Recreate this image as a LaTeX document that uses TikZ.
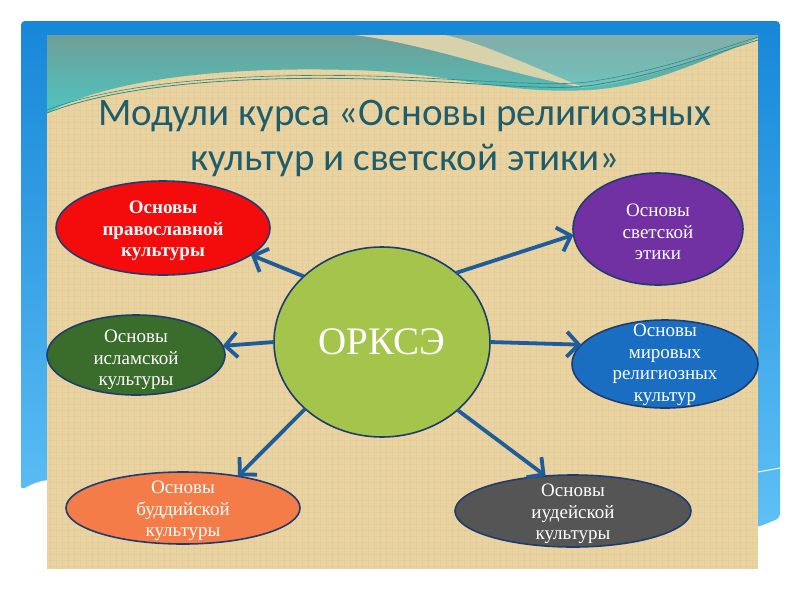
\documentclass[tikz,border=0pt]{standalone}
\usepackage{fontspec}
\setmainfont{Liberation Serif}
\newfontfamily\titlefont{Carlito}
\usetikzlibrary{arrows.meta,shapes.geometric}
\definecolor{papyrus}{HTML}{E9D3A0}
\definecolor{papyrusdark}{HTML}{B89A5A}
\definecolor{frametop}{HTML}{1787D8}
\definecolor{framebot}{HTML}{5EC0F6}
\definecolor{tealtop}{HTML}{6E9E98}
\definecolor{tealbot}{HTML}{4EC6BE}
\definecolor{tealline}{HTML}{2E8C8A}
\definecolor{titlecol}{HTML}{1F5C6C}
\definecolor{navy}{HTML}{1F3C70}
\definecolor{arrowblue}{HTML}{1E5C9C}
\definecolor{cgreen}{HTML}{A5C44B}
\definecolor{bred}{HTML}{F40C0C}
\definecolor{bgreen}{HTML}{3A6C2C}
\definecolor{bpurple}{HTML}{7231A2}
\definecolor{bblue}{HTML}{1A6EC2}
\definecolor{borange}{HTML}{F47C48}
\definecolor{bgray}{HTML}{555555}
\tikzset{
  bub/.style={ellipse, draw=navy, line width=1.6pt, inner sep=0pt, outer sep=0pt},
  lbl/.style={text=white, align=center, inner sep=0pt, yshift=-3pt, font=\fontsize{19}{21.5}\selectfont},
  arr/.style={draw=arrowblue, line width=3.8pt, -{Straight Barb[length=12pt,width=25pt]}},
  texv/.style={draw=papyrusdark, line width=0.8pt, opacity=0.07},
}
\begin{document}
\begin{tikzpicture}[x=1pt,y=-1pt]
\useasboundingbox (0,0) rectangle (800,600);
\fill[white] (0,0) rectangle (800,600);
% blue frame
\shade[top color=frametop, bottom color=framebot, rounded corners=4pt]
  (21,490) -- (21,21) -- (780,21) -- (780,518) -- (758,527) -- (47,480)
  .. controls (36,482) and (28,486) .. (21,490) -- cycle;
\draw[white, line width=1pt] (758,472) -- (780,468);
% papyrus
\fill[papyrus] (47,35) rectangle (758,569);
\foreach \i in {0,...,117} {\draw[texv] (50+\i*6,35) -- (50+\i*6,569);}
\foreach \j in {0,...,88} {\draw[texv] (47,38+\j*6) -- (758,38+\j*6);}
% teal waves
\shade[top color=tealtop, bottom color=tealbot]
  (47,35) -- (758,35) -- (758,38)
  .. controls (700,62) and (650,86) .. (590,90)
  .. controls (500,95) and (450,72) .. (350,70)
  .. controls (200,66) and (100,84) .. (47,113) -- cycle;
\fill[papyrus!85!white, opacity=0.85]
  (355,35) .. controls (430,45) and (500,72) .. (585,88)
  .. controls (530,66) and (480,42) .. (445,35) -- cycle;
\fill[white, opacity=0.15]
  (445,35) .. controls (480,42) and (530,66) .. (585,88)
  .. controls (650,80) and (710,55) .. (758,38) -- (758,35) -- cycle;
\draw[tealline, line width=0.8pt]
  (47,113) .. controls (120,84) and (250,74) .. (400,80)
  .. controls (500,84) and (560,92) .. (600,84)
  .. controls (660,74) and (710,55) .. (758,40);
\draw[tealline, line width=0.6pt]
  (47,110) .. controls (120,82) and (250,71) .. (400,77)
  .. controls (500,81) and (560,88) .. (600,80)
  .. controls (660,70) and (710,52) .. (758,37);
% title
\node[text=titlecol, align=center, font=\titlefont\fontsize{39}{45}\selectfont] (title) at (405,138)
  {Модули курса «Основы религиозных\\культур и светской этики»};
% centre
\node[bub, fill=cgreen, minimum width=216pt, minimum height=190pt, text=white,
  font=\fontsize{39}{42}\selectfont] (c) at (382,342) {ОРКСЭ};
% modules
\node[bub, fill=bred, minimum width=214pt, minimum height=94pt,
  label={[lbl, font=\bfseries\fontsize{19}{21.5}\selectfont]center:{Основы\\православной\\культуры}}] (red) at (163,228) {};
\node[bub, fill=bgreen, minimum width=178pt, minimum height=80pt,
  label={[lbl, yshift=-2pt]center:{Основы\\исламской\\культуры}}] (green) at (136,355) {};
\node[bub, fill=bpurple, minimum width=170pt, minimum height=112pt,
  label={[lbl]center:{Основы\\светской\\этики}}] (purple) at (658,229) {};
\node[bub, fill=bblue, minimum width=186pt, minimum height=88pt,
  label={[lbl, yshift=2pt]center:{Основы\\мировых\\религиозных\\культур}}] (blue) at (665,364) {};
\node[bub, fill=borange, minimum width=234pt, minimum height=72pt,
  label={[lbl]center:{Основы\\буддийской\\культуры}}] (orange) at (183,508) {};
\node[bub, fill=bgray, minimum width=236pt, minimum height=72pt,
  label={[lbl]center:{Основы\\иудейской\\культуры}}] (gray) at (573,511) {};
% arrows
\draw[arr] (c.140) -- (red.-17);
\draw[arr] (c.180) -- (green.6);
\draw[arr] (c.43) -- (purple.184);
\draw[arr] (c.0) -- (blue.167);
\draw[arr] (c.221) -- (orange.30);
\draw[arr] (c.-42) -- (gray.128);
\end{tikzpicture}
\end{document}
